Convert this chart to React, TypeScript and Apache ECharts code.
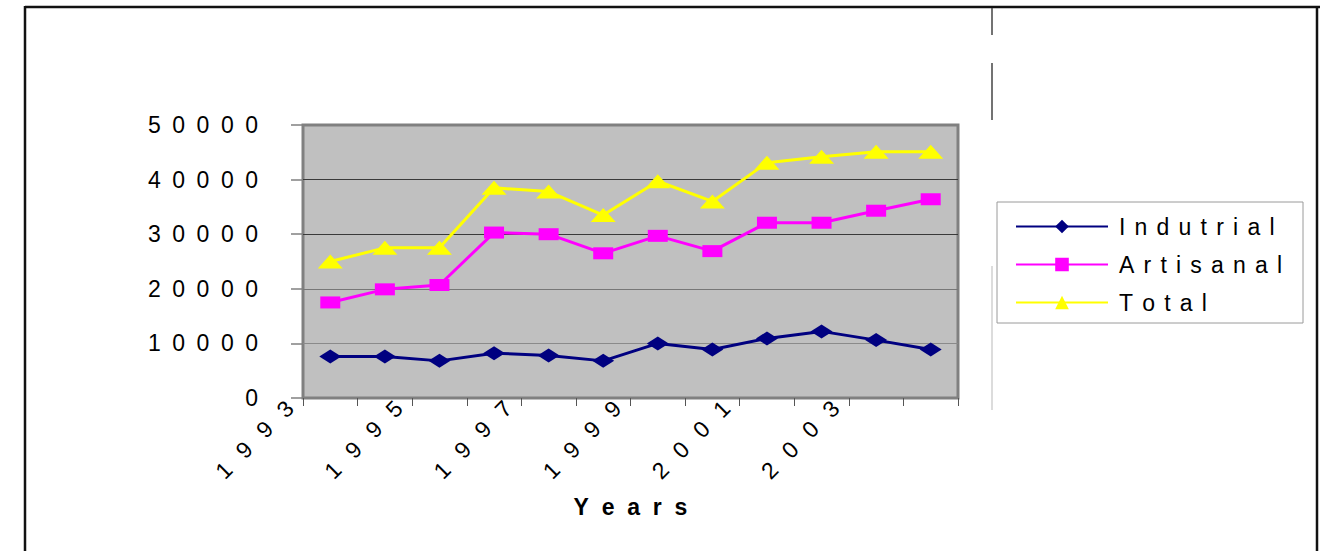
import React, { useEffect, useRef } from "react";
import * as echarts from "echarts";

// Catch by fleet segment, 1993–2004
const years = ["1993", "1994", "1995", "1996", "1997", "1998", "1999", "2000", "2001", "2002", "2003", "2004"];
const industrial = [7600, 7600, 6800, 8200, 7800, 6800, 10000, 8900, 10900, 12200, 10600, 8900];
const artisanal = [17500, 19900, 20700, 30300, 30000, 26500, 29700, 26900, 32100, 32100, 34300, 36400];
const total = [25000, 27500, 27500, 38500, 37800, 33500, 39700, 36000, 43100, 44200, 45100, 45100];

// Year marks placed on the category boundaries (one extra slot closes the axis)
const yearMarks = [...years, ""];

const seriesNames = ["Indutrial", "Artisanal", "Total"];
const seriesColors = ["#000080", "#FF00FF", "#FFFF00"];

const yMin = 0;
const yMax = 50000;
const yStep = 10000;

const FONT = "'Liberation Sans', Arial, sans-serif";

const spaced = (s: string, gap: string) => s.split("").join(gap);

export default function App() {
  const ref = useRef<HTMLDivElement>(null);

  useEffect(() => {
    if (!ref.current) return;
    const chart = echarts.init(ref.current, null, { renderer: "svg" });

    const gridLeft = 303;
    const gridTop = 125;
    const gridWidth = 655;
    const gridHeight = 273;

    chart.setOption({
      animation: false,
      backgroundColor: "#ffffff",
      textStyle: { fontFamily: FONT },
      grid: {
        left: gridLeft,
        top: gridTop,
        width: gridWidth,
        height: gridHeight,
        show: true,
        backgroundColor: "#C0C0C0",
        borderColor: "#808080",
        borderWidth: 3,
      },
      legend: {
        orient: "vertical",
        left: 1015,
        top: 215,
        padding: 0,
        itemWidth: 92,
        itemHeight: 17,
        itemGap: 15,
        data: seriesNames,
        formatter: (name: string) => spaced(name, "\u2009\u2009"),
        textStyle: {
          fontSize: 23,
          color: "#000",
          fontFamily: FONT,
          padding: [0, 0, 0, 6],
        },
      },
      xAxis: [
        {
          type: "category",
          data: years,
          boundaryGap: true,
          position: "bottom",
          axisLine: { show: false },
          axisTick: { show: true, length: 8, lineStyle: { color: "#555", width: 1 } },
          axisLabel: { show: false },
          splitLine: { show: false },
        },
        {
          type: "category",
          data: yearMarks,
          boundaryGap: false,
          position: "bottom",
          axisLine: { show: false },
          axisTick: { show: false },
          splitLine: { show: false },
          axisLabel: {
            interval: 1,
            rotate: 45,
            margin: -7,
            padding: [0, 19, 0, 0],
            fontSize: 23,
            color: "#000",
            fontFamily: FONT,
            formatter: (v: string) => spaced(v, "\u2002\u2009"),
          },
          name: spaced("Years", "\u00a0\u00a0"),
          nameLocation: "middle",
          nameGap: 97,
          nameTextStyle: {
            fontSize: 23,
            fontWeight: "bold",
            color: "#000",
            fontFamily: FONT,
          },
        },
      ],
      yAxis: {
        type: "value",
        min: yMin,
        max: yMax,
        interval: yStep,
        axisLine: { show: false },
        axisTick: { show: true, length: 12, lineStyle: { color: "#808080", width: 1.5 } },
        axisLabel: {
          margin: 45,
          fontSize: 23,
          color: "#000",
          fontFamily: FONT,
          formatter: (v: number) => spaced(String(v), "\u2002"),
        },
        splitLine: {
          show: true,
          lineStyle: {
            color: ["#808080", "#8a8a8a", "#777777", "#3a3a3a", "#3a3a3a", "#808080"],
            width: 1,
          },
        },
      },
      series: [
        {
          name: seriesNames[0],
          type: "line",
          xAxisIndex: 0,
          data: industrial,
          symbol: "diamond",
          symbolSize: [22, 14],
          lineStyle: { color: seriesColors[0], width: 3 },
          itemStyle: { color: seriesColors[0] },
        },
        {
          name: seriesNames[1],
          type: "line",
          xAxisIndex: 0,
          data: artisanal,
          symbol: "rect",
          symbolSize: [20, 12],
          lineStyle: { color: seriesColors[1], width: 3 },
          itemStyle: { color: seriesColors[1] },
        },
        {
          name: seriesNames[2],
          type: "line",
          xAxisIndex: 0,
          data: total,
          symbol: "triangle",
          symbolSize: [25, 14],
          lineStyle: { color: seriesColors[2], width: 3 },
          itemStyle: { color: seriesColors[2] },
        },
      ],
      graphic: [
        // outer frame
        { type: "line", shape: { x1: 25, y1: 7, x2: 1320, y2: 7 }, style: { stroke: "#111", lineWidth: 2.5 } },
        { type: "line", shape: { x1: 25, y1: 6, x2: 25, y2: 551 }, style: { stroke: "#111", lineWidth: 2.5 } },
        { type: "line", shape: { x1: 1317, y1: 6, x2: 1317, y2: 551 }, style: { stroke: "#111", lineWidth: 2.5 } },
        // divider fragments on the right
        { type: "line", shape: { x1: 992, y1: 8, x2: 992, y2: 35 }, style: { stroke: "#444", lineWidth: 1.5 } },
        { type: "line", shape: { x1: 992, y1: 63, x2: 992, y2: 120 }, style: { stroke: "#444", lineWidth: 1.5 } },
        { type: "line", shape: { x1: 992, y1: 266, x2: 992, y2: 410 }, style: { stroke: "#d0d0d0", lineWidth: 1.5 } },
        // legend box
        {
          type: "rect",
          shape: { x: 997, y: 202, width: 306, height: 121 },
          style: { fill: "#ffffff", stroke: "#9a9a9a", lineWidth: 1 },
        },
      ],
    });

    return () => chart.dispose();
  }, []);

  return (
    <div
      ref={ref}
      style={{ position: "fixed", left: 0, top: 0, width: 1320, height: 551 }}
    />
  );
}
